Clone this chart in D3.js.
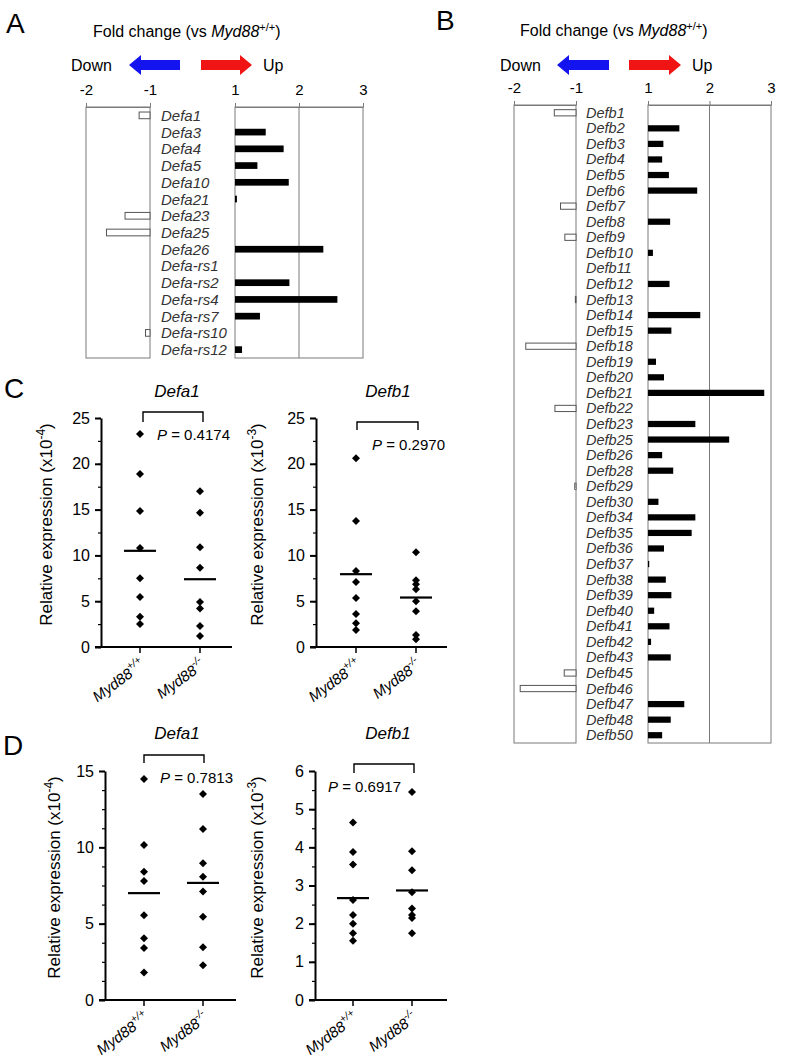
<!DOCTYPE html>
<html>
<head>
<meta charset="utf-8">
<script src="https://cdn.jsdelivr.net/npm/d3@7"></script>
<style>
  body { margin: 0; background: #fff; }
  svg { font-family: "Liberation Sans", Arial, sans-serif; }
</style>
</head>
<body>
<div id="chart"></div>
<script>
// ---- data ----
const foldTicksNeg = [-2, -1];
const foldTicksPos = [1, 2, 3];

const defaGenes = ['Defa1', 'Defa3', 'Defa4', 'Defa5', 'Defa10', 'Defa21', 'Defa23', 'Defa25',
  'Defa26', 'Defa-rs1', 'Defa-rs2', 'Defa-rs4', 'Defa-rs7', 'Defa-rs10', 'Defa-rs12'];
const defaFold = [-1.17, 1.48, 1.76, 1.35, 1.84, 1.03, -1.39, -1.68,
  2.38, 1, 1.85, 2.6, 1.39, -1.07, 1.11];

const defbGenes = ['Defb1', 'Defb2', 'Defb3', 'Defb4', 'Defb5', 'Defb6', 'Defb7', 'Defb8', 'Defb9', 'Defb10',
  'Defb11', 'Defb12', 'Defb13', 'Defb14', 'Defb15', 'Defb18', 'Defb19', 'Defb20', 'Defb21', 'Defb22',
  'Defb23', 'Defb25', 'Defb26', 'Defb28', 'Defb29', 'Defb30', 'Defb34', 'Defb35', 'Defb36', 'Defb37',
  'Defb38', 'Defb39', 'Defb40', 'Defb41', 'Defb42', 'Defb43', 'Defb45', 'Defb46', 'Defb47', 'Defb48', 'Defb50'];
const defbFold = [-1.35, 1.51, 1.25, 1.23, 1.34, 1.8, -1.25, 1.36, -1.18, 1.08,
  1, 1.35, -1.01, 1.85, 1.38, -1.81, 1.13, 1.26, 2.89, -1.34,
  1.77, 2.32, 1.23, 1.41, -1.02, 1.17, 1.77, 1.71, 1.26, 1.02,
  1.29, 1.38, 1.1, 1.35, 1.05, 1.37, -1.19, -1.9, 1.59, 1.37, 1.23];

const groups = ['wt', 'ko'];
const groupSup = ['+/+', '-/-'];

const cDefa1WT = [23.25, 18.9, 14.85, 10.8, 7.5, 5.45, 3.3, 2.5];
const cDefa1KO = [17.0, 14.65, 10.9, 8.65, 4.9, 4.2, 2.3, 1.2];
const cDefa1Mean = [10.5, 7.4];
const cDefb1WT = [20.6, 13.75, 8.3, 7.1, 5.35, 3.6, 2.6, 1.85];
const cDefb1KO = [10.35, 7.3, 6.85, 6.3, 5.0, 3.9, 1.3, 0.85];
const cDefb1Mean = [7.95, 5.4];

const dDefa1WT = [14.47, 10.15, 8.4, 7.8, 5.55, 4.05, 3.4, 1.8];
const dDefa1KO = [13.5, 11.2, 8.95, 8.07, 7.1, 5.45, 3.45, 2.28];
const dDefa1Mean = [7.0, 7.67];
const dDefb1WT = [4.65, 3.88, 3.55, 2.62, 2.23, 2.0, 1.75, 1.55];
const dDefb1KO = [5.45, 3.9, 3.4, 2.82, 2.4, 2.23, 2.15, 1.75];
const dDefb1Mean = [2.67, 2.87];

const pValues = ['0.4174', '0.2970', '0.7813', '0.6917'];

// ---- drawing ----
const W = 785, H = 1061;
const svg = d3.select('#chart').append('svg').attr('width', W).attr('height', H);

function panelLetter(x, y, t) {
  svg.append('text').attr('x', x).attr('y', y).attr('font-size', 28).text(t);
}

function arrow(x0, x1, cy, dir, color) {
  const hl = 12, bh = 5, hh = 10;
  let pts;
  if (dir < 0) {
    pts = [[x0, cy], [x0 + hl, cy - hh], [x0 + hl, cy - bh], [x1, cy - bh], [x1, cy + bh], [x0 + hl, cy + bh], [x0 + hl, cy + hh]];
  } else {
    pts = [[x1, cy], [x1 - hl, cy - hh], [x1 - hl, cy - bh], [x0, cy - bh], [x0, cy + bh], [x1 - hl, cy + bh], [x1 - hl, cy + hh]];
  }
  svg.append('path').attr('d', d3.line()(pts) + 'Z').attr('fill', color);
}

function foldPanel(cfg, genes, values) {
  const g = svg.append('g');
  const xNeg = d3.scaleLinear().domain([-2, -1]).range([cfg.negX0, cfg.negX1]);
  const xPos = d3.scaleLinear().domain([1, 3]).range([cfg.posX0, cfg.posX1]);
  const y = d3.scaleBand().domain(genes).range([cfg.top, cfg.bottom]);

  // title
  const t = g.append('text').attr('x', cfg.titleX).attr('y', cfg.titleY).attr('font-size', 16);
  t.append('tspan').text('Fold change (vs ');
  t.append('tspan').attr('font-style', 'italic').text('Myd88');
  t.append('tspan').attr('font-size', 11).attr('dy', -6).text('+/+');
  t.append('tspan').attr('dy', 6).text(')');

  g.append('text').attr('x', cfg.downX).attr('y', cfg.arrowY + 6).attr('font-size', 16).text('Down');
  arrow(cfg.blue[0], cfg.blue[1], cfg.arrowY, -1, '#1414f0');
  arrow(cfg.red[0], cfg.red[1], cfg.arrowY, 1, '#f01414');
  g.append('text').attr('x', cfg.red[1] + 11).attr('y', cfg.arrowY + 6).attr('font-size', 16).text('Up');

  // frames
  [[xNeg, -2, -1], [xPos, 1, 3]].forEach(([s, a, b]) => {
    g.append('rect')
      .attr('x', s(a)).attr('y', cfg.top)
      .attr('width', s(b) - s(a)).attr('height', cfg.bottom - cfg.top)
      .attr('fill', 'none').attr('stroke', '#7a7a7a').attr('stroke-width', 1);
  });
  g.append('line')
    .attr('x1', xPos(2)).attr('x2', xPos(2))
    .attr('y1', cfg.top).attr('y2', cfg.bottom)
    .attr('stroke', '#7a7a7a');

  // axes
  [[xNeg, foldTicksNeg], [xPos, foldTicksPos]].forEach(([s, tv]) => {
    const ax = g.append('g').attr('transform', `translate(0,${cfg.top})`)
      .call(d3.axisTop(s).tickValues(tv).tickSize(4).tickSizeOuter(0).tickPadding(8).tickFormat(d => String(d)));
    ax.select('.domain').attr('stroke', '#7a7a7a');
    ax.selectAll('.tick line').attr('stroke', '#7a7a7a');
    ax.selectAll('text').attr('font-size', 15).attr('fill', '#000')
      .attr('font-family', '"Liberation Sans", Arial, sans-serif');
  });

  const rows = genes.map((n, i) => ({ n, v: values[i] }));
  const bh = y.bandwidth() * 0.4;

  g.selectAll('rect.up').data(rows.filter(d => d.v > 1)).join('rect')
    .attr('class', 'up')
    .attr('x', xPos(1))
    .attr('y', d => y(d.n) + (y.bandwidth() - bh) / 2)
    .attr('width', d => xPos(d.v) - xPos(1))
    .attr('height', bh)
    .attr('fill', '#000');

  g.selectAll('rect.down').data(rows.filter(d => d.v < 0)).join('rect')
    .attr('class', 'down')
    .attr('x', d => xNeg(d.v))
    .attr('y', d => y(d.n) + (y.bandwidth() - bh) / 2)
    .attr('width', d => xNeg(-1) - xNeg(d.v))
    .attr('height', bh)
    .attr('fill', '#fff')
    .attr('stroke', '#555').attr('stroke-width', 1);

  g.selectAll('text.gene').data(rows).join('text')
    .attr('class', 'gene')
    .attr('x', cfg.labelX)
    .attr('y', d => y(d.n) + y.bandwidth() / 2)
    .attr('dominant-baseline', 'central')
    .attr('font-size', cfg.labelSize)
    .attr('font-style', 'italic')
    .attr('fill', '#333')
    .text(d => d.n);
}

function dotPlot(cfg) {
  const g = svg.append('g');
  const y = d3.scaleLinear().domain([0, cfg.max]).range([cfg.y0, cfg.yTop]);
  const x = d3.scalePoint().domain(groups).range(cfg.gx);

  // title
  g.append('text').attr('x', cfg.titleX).attr('y', cfg.titleY)
    .attr('text-anchor', 'middle').attr('font-size', 17).attr('font-style', 'italic')
    .text(cfg.title);

  // y axis: minor then major
  const minor = g.append('g').attr('transform', `translate(${cfg.ax},0)`)
    .call(d3.axisLeft(y).tickValues(d3.range(0, cfg.max + 1e-6, cfg.minor)).tickSize(3).tickSizeOuter(0).tickFormat(''));
  minor.select('.domain').remove();
  minor.selectAll('.tick line').attr('stroke-width', 1.2);

  const major = g.append('g').attr('transform', `translate(${cfg.ax},0)`)
    .call(d3.axisLeft(y).tickValues(d3.range(0, cfg.max + 1e-6, cfg.major)).tickSize(6).tickSizeOuter(0).tickPadding(5).tickFormat(d3.format('d')));
  major.select('.domain').attr('stroke-width', 2);
  major.selectAll('.tick line').attr('stroke-width', 2);
  major.selectAll('text').attr('font-size', 16)
    .attr('font-family', '"Liberation Sans", Arial, sans-serif');

  // x axis
  g.append('line')
    .attr('x1', cfg.ax - 6).attr('x2', cfg.axEnd)
    .attr('y1', cfg.y0).attr('y2', cfg.y0)
    .attr('stroke', '#000').attr('stroke-width', 2);
  g.selectAll('line.xt').data(groups).join('line')
    .attr('class', 'xt')
    .attr('x1', d => x(d)).attr('x2', d => x(d))
    .attr('y1', cfg.y0).attr('y2', cfg.y0 + 6)
    .attr('stroke', '#000').attr('stroke-width', 1.5);

  groups.forEach((gr, i) => {
    const tx = x(gr) + 6, ty = cfg.y0 + 20;
    const t = g.append('text')
      .attr('transform', `translate(${tx},${ty}) rotate(-36)`)
      .attr('text-anchor', 'end').attr('font-size', 15).attr('font-style', 'italic');
    t.append('tspan').text('Myd88');
    t.append('tspan').attr('font-size', 10.5).attr('dy', -7).text(groupSup[i]);
  });

  // y label
  const yl = g.append('text')
    .attr('transform', `translate(${cfg.ylX},${(cfg.y0 + cfg.yTop) / 2 - 8}) rotate(-90)`)
    .attr('text-anchor', 'middle').attr('font-size', 17);
  yl.append('tspan').text('Relative expression (x10');
  yl.append('tspan').attr('font-size', 12).attr('dy', -7).text(cfg.exp);
  yl.append('tspan').attr('dy', 7).text(')');

  // points
  const sym = d3.symbol(d3.symbolSquare, 32);
  [cfg.wt, cfg.ko].forEach((vals, i) => {
    g.selectAll(null).data(vals).join('path')
      .attr('d', sym)
      .attr('transform', d => `translate(${x(groups[i])},${y(d)}) rotate(45)`)
      .attr('fill', '#000');
  });

  // means
  g.selectAll('line.mean').data(cfg.mean).join('line')
    .attr('class', 'mean')
    .attr('x1', (d, i) => x(groups[i]) - 16).attr('x2', (d, i) => x(groups[i]) + 16)
    .attr('y1', d => y(d)).attr('y2', d => y(d))
    .attr('stroke', '#000').attr('stroke-width', 2.2);

  // bracket + P
  const b = cfg.bracket;
  g.append('path')
    .attr('d', `M${b[0]},${b[3]}V${b[2]}H${b[1]}V${b[3]}`)
    .attr('fill', 'none').attr('stroke', '#000').attr('stroke-width', 1.4);
  const p = g.append('text').attr('x', cfg.pX).attr('y', cfg.pY).attr('font-size', 15);
  p.append('tspan').attr('font-style', 'italic').text('P');
  p.append('tspan').text(' = ' + cfg.p);
}

// Panel A
panelLetter(6, 33, 'A');
foldPanel({
  negX0: 86, negX1: 150, posX0: 235, posX1: 363, top: 107, bottom: 358,
  labelX: 161, labelSize: 15,
  titleX: 93, titleY: 37, downX: 71, arrowY: 65, blue: [129, 180], red: [201, 252]
}, defaGenes, defaFold);

// Panel B
panelLetter(436, 30, 'B');
foldPanel({
  negX0: 514, negX1: 576, posX0: 648, posX1: 771, top: 105, bottom: 743,
  labelX: 586, labelSize: 14.5,
  titleX: 520, titleY: 36, downX: 500, arrowY: 65, blue: [557, 609], red: [629, 681]
}, defbGenes, defbFold);

// Panel C
panelLetter(4, 398, 'C');
dotPlot({
  title: 'Defa1', titleX: 177, titleY: 397, max: 25, major: 5, minor: 2.5,
  ax: 101, axEnd: 232, y0: 647, yTop: 418, gx: [140, 200], ylX: 52, exp: '-4',
  wt: cDefa1WT, ko: cDefa1KO, mean: cDefa1Mean,
  bracket: [143, 203, 412, 422], pX: 157, pY: 440, p: pValues[0]
});
dotPlot({
  title: 'Defb1', titleX: 388, titleY: 397, max: 25, major: 5, minor: 2.5,
  ax: 316, axEnd: 447, y0: 647, yTop: 418, gx: [356, 416], ylX: 263, exp: '-3',
  wt: cDefb1WT, ko: cDefb1KO, mean: cDefb1Mean,
  bracket: [357, 418, 422, 430], pX: 372, pY: 450, p: pValues[1]
});

// Panel D
panelLetter(3, 755, 'D');
dotPlot({
  title: 'Defa1', titleX: 177, titleY: 739, max: 15, major: 5, minor: 1.25,
  ax: 105, axEnd: 236, y0: 1000, yTop: 771, gx: [144, 203], ylX: 60, exp: '-4',
  wt: dDefa1WT, ko: dDefa1KO, mean: dDefa1Mean,
  bracket: [144, 204, 755, 763], pX: 160, pY: 783, p: pValues[2]
});
dotPlot({
  title: 'Defb1', titleX: 388, titleY: 739, max: 6, major: 1, minor: 0.5,
  ax: 315, axEnd: 447, y0: 1000, yTop: 771, gx: [353, 412], ylX: 263, exp: '-3',
  wt: dDefb1WT, ko: dDefb1KO, mean: dDefb1Mean,
  bracket: [354, 414, 764, 773], pX: 328, pY: 792, p: pValues[3]
});
</script>
</body>
</html>
